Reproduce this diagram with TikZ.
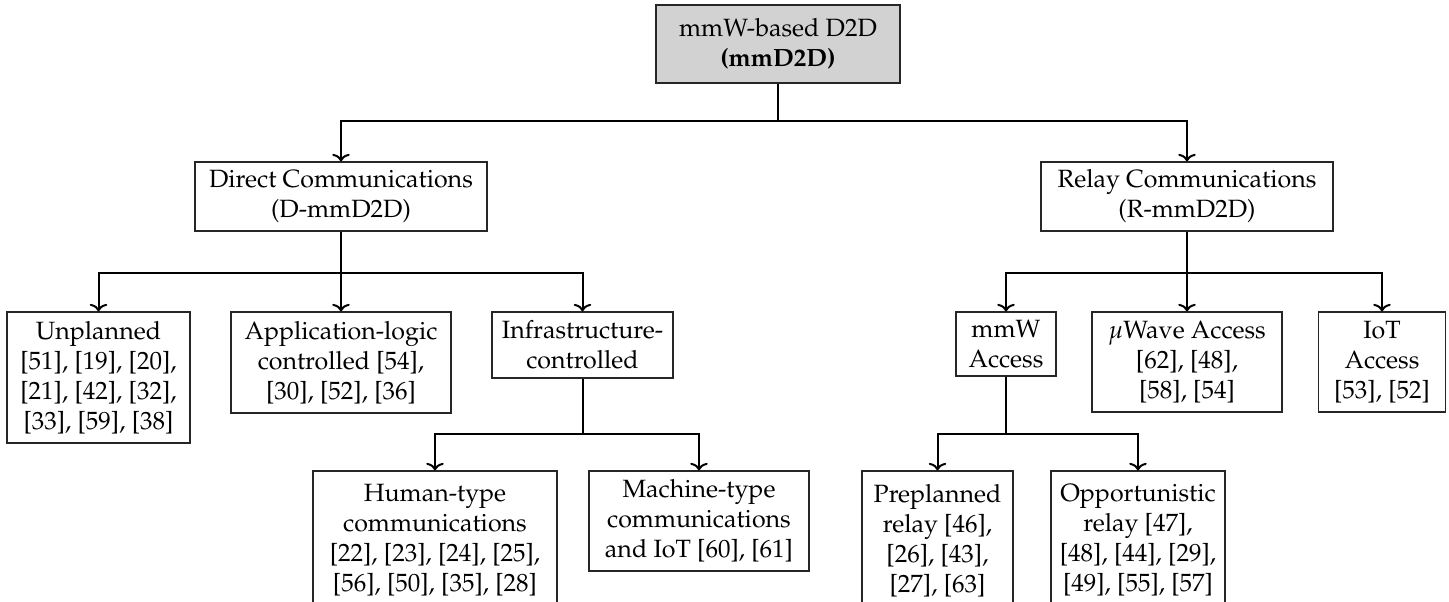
\documentclass[tikz,border=0pt]{standalone}
\usepackage[T1]{fontenc}
\usepackage{mathpazo}
\usetikzlibrary{arrows.meta}
\tikzset{
  box/.style={draw=black!85, line width=0.5pt, align=center, inner sep=0pt, font=\normalsize},
  conn/.style={line width=0.8pt, -{To[length=3pt,width=7pt]}},
}
\begin{document}
\begin{tikzpicture}[x=0.4pt, y=-0.4pt]
\useasboundingbox (0,0) rectangle (1449,601);
\fill[white] (0,0) rectangle (1449,601);
\clip (0,0) rectangle (1449,601);

% root
\node[box, fill=gray!35, minimum width=97.6pt, minimum height=31.2pt] (root) at (778,44)
  {mmW-based D2D\\\textbf{(mmD2D)}};

% second level
\node[box, minimum width=116.8pt, minimum height=27.6pt] (dir) at (341,196.5)
  {Direct Communications\\(D-mmD2D)};
\node[box, minimum width=116.8pt, minimum height=27.6pt] (rel) at (1187,196.5)
  {Relay Communications\\(R-mmD2D)};

% direct branch
\node[box, minimum width=73.2pt, minimum height=52.4pt] (unp) at (98.5,377.5)
  {Unplanned\\{}[51], [19], [20],\\{}[21], [42], [32],\\{}[33], [59], [38]};
\node[box, minimum width=88pt, minimum height=40.4pt] (app) at (341,362.5)
  {Application-logic\\controlled [54],\\{}[30], [52], [36]};
\node[box, minimum width=72.4pt, minimum height=26.4pt] (inf) at (582.5,345)
  {Infrastructure-\\controlled};
\node[box, minimum width=97.6pt, minimum height=55.6pt] (hum) at (435,540.5)
  {Human-type\\communications\\{}[22], [23], [24], [25],\\{}[56], [50], [35], [28]};
\node[box, minimum width=88pt, minimum height=40pt] (mac) at (699,521)
  {Machine-type\\communications\\and IoT [60], [61]};

% relay branch
\node[box, minimum width=40pt, minimum height=25.6pt] (mmw) at (1006,344)
  {mmW\\Access};
\node[box, minimum width=76pt, minimum height=40pt] (muw) at (1187,362)
  {$\mu$Wave Access\\{}[62], [48],\\{}[58], [54]};
\node[box, minimum width=50.8pt, minimum height=40pt] (iot) at (1382,362)
  {IoT\\Access\\{}[53], [52]};
\node[box, minimum width=60.4pt, minimum height=55.6pt] (pre) at (937.5,540.5)
  {Preplanned\\relay [46],\\{}[26], [43],\\{}[27], [63]};
\node[box, minimum width=69.6pt, minimum height=55.6pt] (opp) at (1138,540.5)
  {Opportunistic\\relay [47],\\{}[48], [44], [29],\\{}[49], [55], [57]};

% connectors
\draw[conn] (root.south) -- ++(0,37) -| (dir.north);
\draw[conn] (root.south) -- ++(0,37) -| (rel.north);

\draw[conn] (dir.south) -- ++(0,41) -| (unp.north);
\draw[conn] (dir.south) -- (app.north);
\draw[conn] (dir.south) -- ++(0,41) -| (inf.north);

\draw[conn] (inf.south) -- ++(0,55) -| (hum.north);
\draw[conn] (inf.south) -- ++(0,55) -| (mac.north);

\draw[conn] (rel.south) -- ++(0,41) -| (mmw.north);
\draw[conn] (rel.south) -- (muw.north);
\draw[conn] (rel.south) -- ++(0,41) -| (iot.north);

\draw[conn] (mmw.south) -- ++(0,57) -| (pre.north);
\draw[conn] (mmw.south) -- ++(0,57) -| (opp.north);
\end{tikzpicture}
\end{document}
